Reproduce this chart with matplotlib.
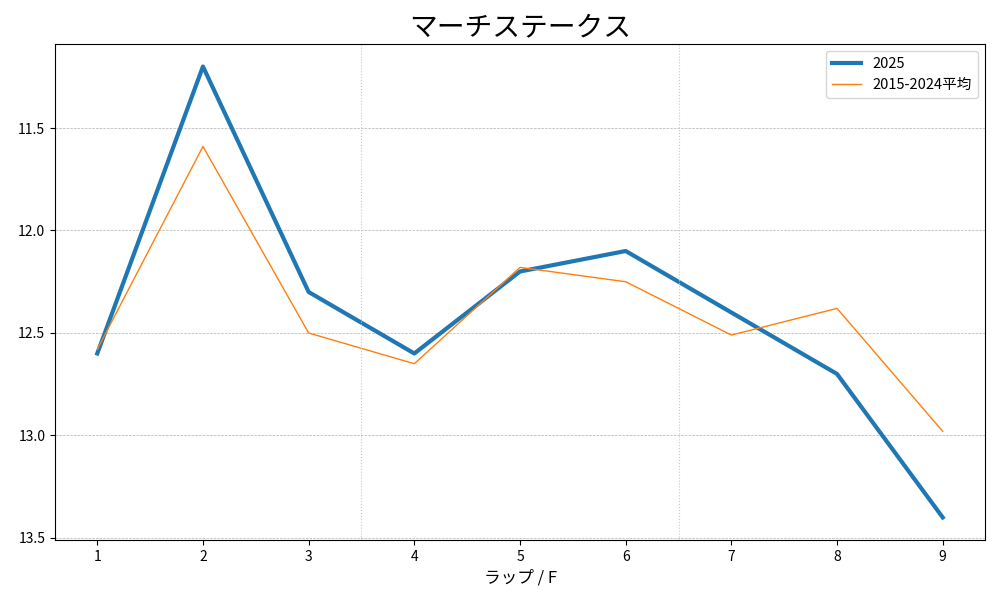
import matplotlib
matplotlib.use("Agg")
import matplotlib.pyplot as plt

plt.rcParams['font.family'] = ['Noto Sans CJK JP', 'DejaVu Sans']

laps = [1, 2, 3, 4, 5, 6, 7, 8, 9]
times_2025 = [12.6, 11.2, 12.3, 12.6, 12.2, 12.1, 12.4, 12.7, 13.4]
times_avg = [12.58, 11.59, 12.5, 12.65, 12.18, 12.25, 12.51, 12.38, 12.98]
title = "マーチステークス"
label_2025 = "2025"
label_avg = "2015-2024平均"
section_bounds = [3.5, 6.5]

fig, ax = plt.subplots(figsize=(10, 6), dpi=100)
fig.subplots_adjust(left=0.055, right=0.985, top=0.9267, bottom=0.1)
ax.plot(laps, times_2025, color='#1f77b4', linewidth=3, label=label_2025)
ax.plot(laps, times_avg, color='#ff7f0e', linewidth=1, label=label_avg)
ax.invert_yaxis()
ax.set_xticks(laps)
ax.set_yticks([11.5, 12.0, 12.5, 13.0, 13.5])
ax.grid(axis='y', linestyle='--', linewidth=0.5, color='#b0b0b0')
for b in section_bounds:
    ax.axvline(b, color='#c8c8c8', linestyle=':', linewidth=0.8)
ax.set_title(title, fontsize=20)
ax.set_xlabel("ラップ / F", fontsize=12)
ax.legend(loc='upper right', fontsize=10.5)
fig.savefig("out.png", dpi=100)
